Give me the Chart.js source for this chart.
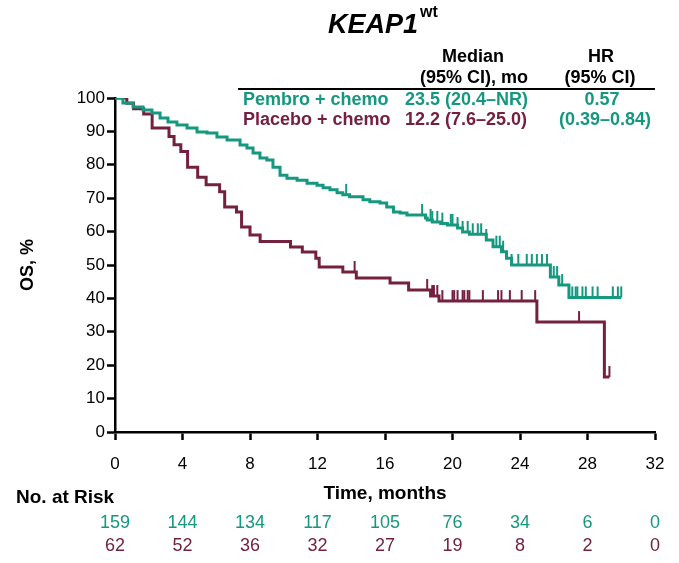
<!DOCTYPE html>
<html>
<head>
<meta charset="utf-8">
<script src="https://cdn.jsdelivr.net/npm/chart.js@4/dist/chart.umd.min.js"></script>
<style>
  html, body { margin: 0; padding: 0; background: #fff; }
  canvas { display: block; }
</style>
</head>
<body>
<canvas id="km" width="679" height="563"></canvas>
<script>
// KM estimates (months, OS %)
const pembroTimes = [0, 0.47, 1.07, 1.66, 2.19, 2.67, 3.14, 3.67, 4.27, 4.86, 5.45, 6.04, 6.64, 7.41, 7.82,
  8.18, 8.59, 9.0, 9.36, 9.78, 10.19, 10.79, 11.38, 11.97, 12.33, 12.74, 13.16, 13.5, 13.9, 14.7, 15.1,
  15.7, 16.1, 16.5, 16.9, 17.3, 18.4, 18.5, 18.8, 19.3, 19.7, 20.3, 20.6, 21.0, 22.0, 22.4, 22.9, 23.2,
  23.5, 25.8, 26.3, 26.9, 30.0];
const pembroSurv = [100, 98.5, 97.3, 96.4, 95.5, 94.0, 92.8, 91.9, 91.0, 89.8, 89.5, 88.3, 87.4, 85.9, 85.0,
  83.5, 82.0, 81.4, 79.3, 76.9, 76.0, 75.4, 74.5, 73.9, 73.1, 72.5, 71.6, 71.0, 70.4, 69.5, 68.9,
  68.6, 67.4, 65.9, 65.6, 65.0, 64.1, 63.5, 62.9, 62.4, 62.0, 61.1, 59.9, 59.2, 57.5, 55.5, 54.0, 52.0,
  50.0, 46.4, 44.0, 40.3, 40.3];
const pembroCensor = [13.7, 18.2, 18.7, 18.8, 19.1, 19.4, 19.9, 20.0, 20.3, 20.6, 20.9, 21.2, 21.5, 21.7,
  22.0, 22.6, 22.8, 23.0, 23.5, 23.9, 24.4, 24.7, 25.0, 25.3, 25.6, 26.0, 26.2, 26.5, 27.1, 27.3, 27.4,
  27.7, 27.9, 28.3, 28.6, 29.5, 29.8, 30.0];

const placeboTimes = [0, 0.7, 1.1, 1.7, 2.2, 3.2, 3.5, 3.9, 4.3, 4.9, 5.4, 6.2, 6.5, 7.2, 7.5, 8.0, 8.6,
  10.4, 11.1, 11.9, 12.1, 13.5, 14.3, 16.3, 17.4, 18.7, 19.2, 25.0, 29.0, 29.3];
const placeboSurv = [100, 98.4, 96.8, 95.2, 91.0, 88.5, 86.0, 84.0, 79.3, 76.3, 74.0, 71.9, 67.4, 65.9,
  61.4, 59.0, 57.0, 55.4, 53.9, 52.0, 49.4, 47.9, 46.1, 44.6, 42.5, 40.7, 39.2, 32.9, 16.5, 16.5];
const placeboCensor = [14.2, 18.5, 18.8, 18.9, 19.1, 19.4, 20.0, 20.1, 20.3, 20.6, 20.7, 20.9, 21.0,
  21.8, 22.7, 22.9, 23.4, 24.1, 24.9, 27.5, 29.3];

const tickMonths = [0, 4, 8, 12, 16, 20, 24, 28, 32];
const riskPembro = [159, 144, 134, 117, 105, 76, 34, 6, 0];
const riskPlacebo = [62, 52, 36, 32, 27, 19, 8, 2, 0];

const teal = '#16977f';
const maroon = '#74213f';
const FONT = '"Liberation Sans", Arial, Helvetica, sans-serif';

function survAt(times, surv, t) {
  let s = surv[0];
  for (let i = 0; i < times.length; i++) {
    if (times[i] <= t) s = surv[i];
  }
  return s;
}

function tickMark(color) {
  const c = document.createElement('canvas');
  c.width = 4;
  c.height = 24;
  const g = c.getContext('2d');
  g.strokeStyle = color;
  g.lineWidth = 2;
  g.beginPath();
  g.moveTo(2, 1);
  g.lineTo(2, 12);
  g.stroke();
  return c;
}

const curve = (times, surv) => times.map((t, i) => ({ x: t, y: surv[i] }));
const censor = (list, times, surv) => list.map(t => ({ x: t, y: survAt(times, surv, t) }));

const textPlugin = {
  id: 'kmText',
  afterDraw(chart) {
    const ctx = chart.ctx;
    const x = chart.scales.x;
    ctx.save();
    ctx.fillStyle = '#000';

    // title
    ctx.textBaseline = 'alphabetic';
    ctx.textAlign = 'left';
    ctx.font = 'italic bold 27px ' + FONT;
    ctx.fillText('KEAP1', 328, 33);
    const w = ctx.measureText('KEAP1').width;
    ctx.font = 'bold 16px ' + FONT;
    ctx.fillText('wt', 328 + w + 2, 17);

    // summary table
    ctx.textBaseline = 'middle';
    ctx.font = 'bold 18px ' + FONT;
    ctx.textAlign = 'center';
    ctx.fillText('Median', 473, 57);
    ctx.fillText('(95% CI), mo', 474, 78);
    ctx.fillText('HR', 601, 57);
    ctx.fillText('(95% CI)', 600, 78);
    ctx.strokeStyle = '#000';
    ctx.lineWidth = 2;
    ctx.beginPath();
    ctx.moveTo(238, 89);
    ctx.lineTo(655, 89);
    ctx.stroke();

    ctx.textAlign = 'left';
    ctx.fillStyle = teal;
    ctx.fillText('Pembro + chemo', 243, 100);
    ctx.fillText('23.5 (20.4\u2013NR)', 405, 100);
    ctx.fillStyle = maroon;
    ctx.fillText('Placebo + chemo', 243, 120);
    ctx.fillText('12.2 (7.6\u201325.0)', 405, 120);
    ctx.textAlign = 'center';
    ctx.fillStyle = teal;
    ctx.fillText('0.57', 602, 100);
    ctx.fillText('(0.39\u20130.84)', 605, 120);

    // axis titles
    ctx.fillStyle = '#000';
    ctx.font = 'bold 19px ' + FONT;
    ctx.fillText('Time, months', x.getPixelForValue(16), 494);
    ctx.save();
    ctx.translate(28, 265);
    ctx.rotate(-Math.PI / 2);
    ctx.font = 'bold 18px ' + FONT;
    ctx.fillText('OS, %', 0, 0);
    ctx.restore();

    // numbers at risk
    ctx.textAlign = 'left';
    ctx.fillText('No. at Risk', 16, 498);
    ctx.textAlign = 'center';
    ctx.font = '18px ' + FONT;
    tickMonths.forEach((m, i) => {
      const px = x.getPixelForValue(m);
      ctx.fillStyle = teal;
      ctx.fillText(String(riskPembro[i]), px, 523);
      ctx.fillStyle = maroon;
      ctx.fillText(String(riskPlacebo[i]), px, 546);
    });
    ctx.restore();
  }
};

const axisCommon = {
  type: 'linear',
  grid: { drawOnChartArea: false, drawTicks: true, tickLength: 8, tickColor: '#000', tickWidth: 2.5 },
  border: { display: true, color: '#000', width: 2.5 },
};

new Chart(document.getElementById('km').getContext('2d'), {
  type: 'line',
  data: {
    datasets: [
      {
        label: 'Pembro + chemo',
        data: curve(pembroTimes, pembroSurv),
        borderColor: teal,
        borderWidth: 3,
        stepped: true,
        pointRadius: 0,
        fill: false,
      },
      {
        label: 'Placebo + chemo',
        data: curve(placeboTimes, placeboSurv),
        borderColor: maroon,
        borderWidth: 3,
        stepped: true,
        pointRadius: 0,
        fill: false,
      },
      {
        type: 'scatter',
        label: 'Pembro censored',
        data: censor(pembroCensor, pembroTimes, pembroSurv),
        pointStyle: tickMark(teal),
        pointRadius: 4,
      },
      {
        type: 'scatter',
        label: 'Placebo censored',
        data: censor(placeboCensor, placeboTimes, placeboSurv),
        pointStyle: tickMark(maroon),
        pointRadius: 4,
      }
    ]
  },
  options: {
    responsive: false,
    animation: false,
    layout: { padding: { top: 98, right: 24, left: 0, bottom: 0 } },
    plugins: {
      legend: { display: false },
      tooltip: { enabled: false },
      title: { display: false },
    },
    scales: {
      x: {
        ...axisCommon,
        min: 0,
        max: 32,
        ticks: { stepSize: 4, color: '#000', font: { family: FONT, size: 17 }, padding: 14, maxRotation: 0 },
        afterFit: s => { s.height = 131; },
      },
      y: {
        ...axisCommon,
        min: 0,
        max: 100,
        ticks: { stepSize: 10, color: '#000', font: { family: FONT, size: 17 }, padding: 2 },
        afterFit: s => { s.width = 115; },
      }
    }
  },
  plugins: [textPlugin]
});
</script>
</body>
</html>
